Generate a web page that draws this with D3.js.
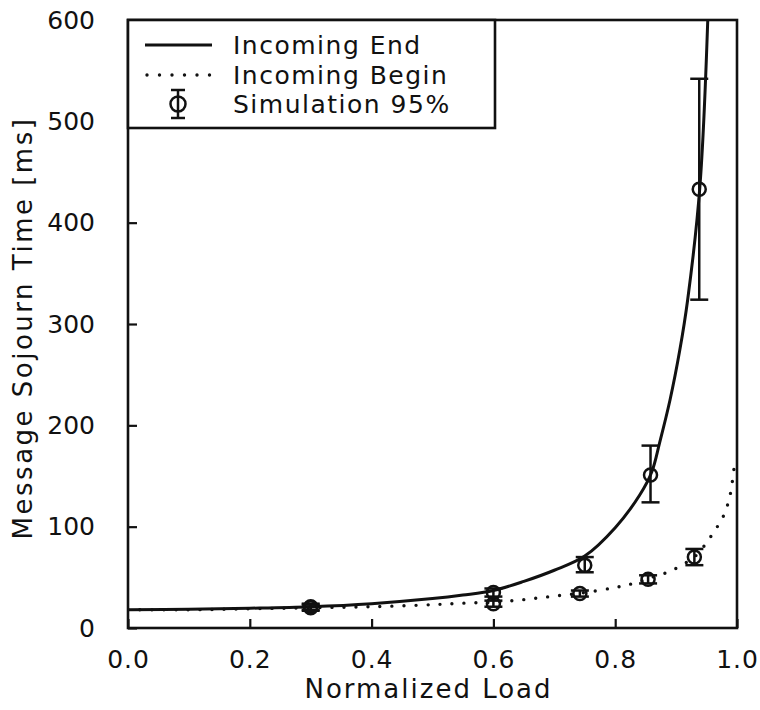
<!DOCTYPE html>
<html>
<head>
<meta charset="utf-8">
<script src="https://cdn.jsdelivr.net/npm/d3@7/dist/d3.min.js"></script>
<style>
  body { margin: 0; background: #fff; }
  text { font-family: "DejaVu Sans", sans-serif; fill: #111; }
</style>
</head>
<body>
<script>
// analytic curve, incoming end
var endLoad = [0, 0.1, 0.2, 0.3, 0.4, 0.5, 0.55, 0.6, 0.65, 0.7, 0.75, 0.8, 0.84, 0.86, 0.873, 0.89, 0.906, 0.919, 0.939, 0.952]
var endTime = [18, 18.5, 19.5, 21, 24, 29, 32.5, 37, 46, 57, 71, 99, 131, 154, 183, 225, 274, 324, 435, 600]

// analytic curve, incoming begin
var beginLoad = [0, 0.1, 0.2, 0.3, 0.4, 0.5, 0.55, 0.6, 0.65, 0.7, 0.75, 0.8, 0.83, 0.855, 0.89, 0.906, 0.93, 0.951, 0.962, 0.974, 0.982, 0.989, 0.995]
var beginTime = [18, 18, 19, 20, 21, 23, 24.5, 25.5, 28, 31.5, 35, 40, 44, 49, 56, 61, 70, 85, 95, 106, 117, 132, 157]

// simulation points with 95% intervals
var simLoad  = [0.3, 0.6, 0.75, 0.858, 0.938, 0.3, 0.6, 0.742, 0.854, 0.93]
var simMean  = [21, 35, 62, 151, 433, 20, 24, 34, 48, 70]
var simLow   = [18, 31, 55, 124, 324, 17, 21, 31, 44, 62]
var simHigh  = [24, 39, 70, 180, 542, 23, 27, 37, 52, 78]

var xTicks = [0, 0.2, 0.4, 0.6, 0.8, 1.0]
var yTicks = [0, 100, 200, 300, 400, 500, 600]
var legendLabels = ["Incoming End", "Incoming Begin", "Simulation 95%"]

var width = 760, height = 710
var padding = {left: 128, right: 737, up: 20, down: 628}

var svg = d3.select("body").append("svg")
    .attr("width", width).attr("height", height)

var x = d3.scaleLinear().domain([0, 1]).range([padding.left, padding.right])
var y = d3.scaleLinear().domain([0, 600]).range([padding.down, padding.up])

svg.append("defs").append("clipPath").attr("id", "plotclip")
  .append("rect").attr("x", padding.left).attr("y", padding.up - 2)
  .attr("width", padding.right - padding.left + 2).attr("height", padding.down - padding.up + 2)

// axes, ticks pointing inward
var xaxis = d3.axisBottom(x).tickValues(xTicks).tickFormat(d3.format(".1f"))
    .tickSizeInner(-9).tickSizeOuter(0).tickPadding(22)
var yaxis = d3.axisLeft(y).tickValues(yTicks).tickFormat(d3.format("d"))
    .tickSizeInner(-9).tickSizeOuter(0).tickPadding(33)

var gx = svg.append("g").attr("transform", "translate(0," + padding.down + ")").call(xaxis)
var gy = svg.append("g").attr("transform", "translate(" + padding.left + ",0)").call(yaxis)
;[gx, gy].forEach(function(g){
  g.select(".domain").remove()
  g.selectAll("line").attr("stroke", "#111").attr("stroke-width", 2.2)
  g.selectAll("text").style("font-size", "25px").attr("fill", "#111")
})
gx.selectAll("text").attr("letter-spacing", "1px")

svg.append("rect")
  .attr("x", padding.left).attr("y", padding.up)
  .attr("width", padding.right - padding.left).attr("height", padding.down - padding.up)
  .attr("fill", "none").attr("stroke", "#111").attr("stroke-width", 2.6)

// axis titles
svg.append("text")
  .attr("x", (padding.left + padding.right) / 2 - 4).attr("y", 698)
  .attr("text-anchor", "middle")
  .attr("letter-spacing", "2px")
  .style("font-size", "26px")
  .text("Normalized Load")

svg.append("text")
  .attr("transform", "translate(32,328) rotate(-90)")
  .attr("text-anchor", "middle")
  .attr("letter-spacing", "2.5px")
  .style("font-size", "26px")
  .text("Message Sojourn Time [ms]")

var plot = svg.append("g").attr("clip-path", "url(#plotclip)")

var line = d3.line()
  .x(function(d){ return x(d[0]) })
  .y(function(d){ return y(d[1]) })
  .curve(d3.curveCatmullRom.alpha(0.5))

plot.append("path")
  .datum(endLoad.map(function(d, i){ return [d, endTime[i]] }))
  .attr("d", line)
  .attr("fill", "none").attr("stroke", "#111").attr("stroke-width", 3)

plot.append("path")
  .datum(beginLoad.map(function(d, i){ return [d, beginTime[i]] }))
  .attr("d", line)
  .attr("fill", "none").attr("stroke", "#111").attr("stroke-width", 3.4)
  .attr("stroke-linecap", "round")
  .attr("stroke-dasharray", "0 12")

// simulation error bars
var sims = plot.selectAll(".sim").data(simLoad).enter().append("g").attr("class", "sim")
sims.append("line")
  .attr("x1", function(d){ return x(d) }).attr("x2", function(d){ return x(d) })
  .attr("y1", function(d, i){ return y(simLow[i]) }).attr("y2", function(d, i){ return y(simHigh[i]) })
  .attr("stroke", "#111").attr("stroke-width", 2.5)
sims.selectAll(".cap").data(function(d, i){ return [[d, simLow[i]], [d, simHigh[i]]] })
  .enter().append("line")
  .attr("x1", function(d){ return x(d[0]) - 9 }).attr("x2", function(d){ return x(d[0]) + 9 })
  .attr("y1", function(d){ return y(d[1]) }).attr("y2", function(d){ return y(d[1]) })
  .attr("stroke", "#111").attr("stroke-width", 2.5)
sims.append("circle")
  .attr("cx", function(d){ return x(d) })
  .attr("cy", function(d, i){ return y(simMean[i]) })
  .attr("r", 6.5)
  .attr("fill", "none").attr("stroke", "#111").attr("stroke-width", 2.5)

// legend
var lg = svg.append("g")
lg.append("rect")
  .attr("x", padding.left).attr("y", padding.up).attr("width", 367).attr("height", 108)
  .attr("fill", "#fff").attr("stroke", "#111").attr("stroke-width", 2.6)

var rowY = [45, 75, 104]
lg.append("line").attr("x1", 145).attr("x2", 212).attr("y1", rowY[0]).attr("y2", rowY[0])
  .attr("stroke", "#111").attr("stroke-width", 3)
lg.append("line").attr("x1", 147).attr("x2", 212).attr("y1", rowY[1]).attr("y2", rowY[1])
  .attr("stroke", "#111").attr("stroke-width", 3.4)
  .attr("stroke-linecap", "round").attr("stroke-dasharray", "0 12.5")
lg.append("line").attr("x1", 178).attr("x2", 178).attr("y1", rowY[2] - 14).attr("y2", rowY[2] + 14)
  .attr("stroke", "#111").attr("stroke-width", 2.5)
lg.append("line").attr("x1", 171).attr("x2", 185).attr("y1", rowY[2] - 14).attr("y2", rowY[2] - 14)
  .attr("stroke", "#111").attr("stroke-width", 2.5)
lg.append("line").attr("x1", 171).attr("x2", 185).attr("y1", rowY[2] + 14).attr("y2", rowY[2] + 14)
  .attr("stroke", "#111").attr("stroke-width", 2.5)
lg.append("circle").attr("cx", 178).attr("cy", rowY[2]).attr("r", 7.5)
  .attr("fill", "none").attr("stroke", "#111").attr("stroke-width", 2.5)

lg.selectAll(".lab").data(legendLabels).enter().append("text")
  .attr("x", 233).attr("y", function(d, i){ return rowY[i] + 9 })
  .attr("letter-spacing", "1.5px")
  .style("font-size", "25px")
  .text(function(d){ return d })
</script>
</body>
</html>
